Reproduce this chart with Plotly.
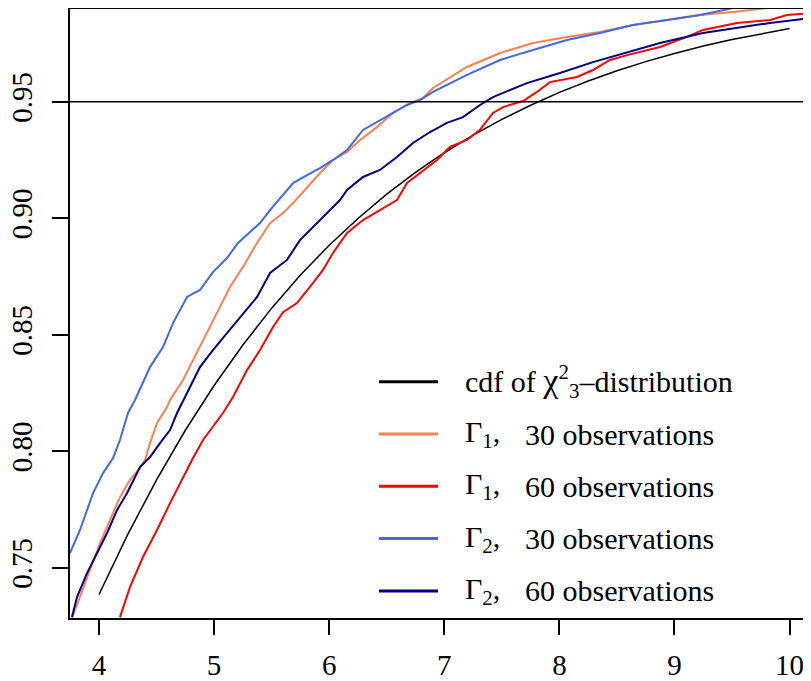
import plotly.graph_objects as go

# ---------------- data ----------------
chi_x = [4.0, 4.25, 4.5, 4.75, 5.0, 5.25, 5.5, 5.75, 6.0, 6.25, 6.5, 6.75, 7.0,
         7.25, 7.5, 7.75, 8.0, 8.25, 8.5, 8.75, 9.0, 9.25, 9.5, 9.75, 10.0]
chi_y = [0.7385, 0.7643, 0.7877, 0.8090, 0.8282, 0.8456, 0.8614, 0.8756, 0.8884,
         0.8999, 0.9103, 0.9197, 0.9281, 0.9357, 0.9424, 0.9485, 0.9540, 0.9589,
         0.9633, 0.9672, 0.9707, 0.9739, 0.9767, 0.9792, 0.9814]

g1_30_x = [3.765, 3.835, 3.922, 4.009, 4.096, 4.182, 4.269, 4.356, 4.400, 4.443,
           4.504, 4.591, 4.617, 4.730, 4.817, 4.938, 5.051, 5.138, 5.251, 5.373,
           5.486, 5.599, 5.686, 5.807, 5.920, 6.033, 6.155, 6.268, 6.415, 6.554,
           6.702, 6.815, 6.902, 7.197, 7.484, 7.771, 8.066, 8.353, 8.639, 8.935,
           9.222, 9.508, 9.804, 10.186]
g1_30_y = [0.7284, 0.7374, 0.7490, 0.7606, 0.7705, 0.7803, 0.7876, 0.7928, 0.7962, 0.8035,
           0.8121, 0.8190, 0.8220, 0.8306, 0.8391, 0.8507, 0.8619, 0.8705, 0.8791, 0.8894,
           0.8979, 0.9022, 0.9065, 0.9134, 0.9194, 0.9250, 0.9284, 0.9336, 0.9391, 0.9452,
           0.9494, 0.9516, 0.9559, 0.9649, 0.9709, 0.9752, 0.9778, 0.9799, 0.9829, 0.9851,
           0.9872, 0.9885, 0.9902, 0.9911]

g1_60_x = [4.182, 4.269, 4.382, 4.504, 4.617, 4.730, 4.817, 4.904, 4.990, 5.077,
           5.164, 5.286, 5.399, 5.512, 5.599, 5.720, 5.833, 5.946, 6.033, 6.155,
           6.294, 6.441, 6.589, 6.676, 6.789, 6.937, 7.050, 7.197, 7.310, 7.423,
           7.510, 7.684, 7.805, 7.918, 8.153, 8.292, 8.440, 8.587, 8.874, 9.108,
           9.248, 9.543, 9.830, 9.977, 10.186]
g1_60_y = [0.7288, 0.7417, 0.7546, 0.7662, 0.7777, 0.7889, 0.7971, 0.8048, 0.8104, 0.8164,
           0.8233, 0.8348, 0.8434, 0.8533, 0.8597, 0.8636, 0.8705, 0.8778, 0.8851, 0.8937,
           0.8992, 0.9035, 0.9078, 0.9151, 0.9194, 0.9250, 0.9306, 0.9336, 0.9379, 0.9452,
           0.9477, 0.9503, 0.9542, 0.9584, 0.9606, 0.9636, 0.9679, 0.9700, 0.9735, 0.9778,
           0.9808, 0.9838, 0.9851, 0.9872, 0.9881]

g2_30_x = [3.748, 3.835, 3.948, 4.035, 4.122, 4.182, 4.252, 4.313, 4.443, 4.556,
           4.643, 4.765, 4.877, 4.990, 5.112, 5.208, 5.312, 5.399, 5.486, 5.573,
           5.686, 5.807, 5.920, 6.033, 6.155, 6.294, 6.415, 6.554, 6.676, 6.789,
           6.902, 7.197, 7.484, 7.771, 8.066, 8.353, 8.639, 8.935, 9.222, 9.508,
           9.804, 10.186]
g2_30_y = [0.7563, 0.7662, 0.7820, 0.7906, 0.7971, 0.8048, 0.8164, 0.8220, 0.8361, 0.8447,
           0.8550, 0.8662, 0.8692, 0.8769, 0.8829, 0.8894, 0.8941, 0.8979, 0.9035, 0.9087,
           0.9151, 0.9185, 0.9215, 0.9250, 0.9293, 0.9379, 0.9413, 0.9452, 0.9486, 0.9507,
           0.9542, 0.9615, 0.9679, 0.9722, 0.9765, 0.9795, 0.9829, 0.9851, 0.9872, 0.9902,
           0.99065, 0.9911]

g2_60_x = [3.765, 3.809, 3.896, 3.983, 4.070, 4.156, 4.243, 4.356, 4.443, 4.530,
           4.617, 4.678, 4.730, 4.765, 4.877, 4.990, 5.112, 5.225, 5.373, 5.486,
           5.633, 5.746, 5.894, 6.007, 6.094, 6.155, 6.294, 6.441, 6.589, 6.728,
           6.876, 7.023, 7.162, 7.310, 7.423, 7.718, 8.005, 8.292, 8.587, 8.874,
           9.248, 9.543, 9.830, 10.186]
g2_60_y = [0.7288, 0.7374, 0.7477, 0.7563, 0.7649, 0.7747, 0.7820, 0.7932, 0.7975, 0.8035,
           0.8091, 0.8164, 0.8220, 0.8250, 0.8361, 0.8434, 0.8507, 0.8576, 0.8662, 0.8765,
           0.8821, 0.8906, 0.8979, 0.9035, 0.9078, 0.9121, 0.9177, 0.9207, 0.9263, 0.9323,
           0.9370, 0.9409, 0.9434, 0.9486, 0.9520, 0.9580, 0.9623, 0.9670, 0.9713, 0.9752,
           0.9795, 0.9816, 0.9838, 0.9859]

ref_level = 0.95
x_ticks = [4, 5, 6, 7, 8, 9, 10]
y_ticks = [0.75, 0.80, 0.85, 0.90, 0.95]
y_tick_text = ["0.75", "0.80", "0.85", "0.90", "0.95"]

series = [
    ("cdf of <span style=\"font-size:34px\">χ</span><sup>2</sup><sub>3</sub>–distribution",
     None, chi_x, chi_y, "#000000", 1.5),
    ("Γ<sub>1</sub>,", "30 observations", g1_30_x, g1_30_y, "#FF7F50", 2),
    ("Γ<sub>1</sub>,", "60 observations", g1_60_x, g1_60_y, "#FF0000", 2),
    ("Γ<sub>2</sub>,", "30 observations", g2_30_x, g2_30_y, "#4169E1", 2),
    ("Γ<sub>2</sub>,", "60 observations", g2_60_x, g2_60_y, "#000080", 2),
]

FONT = "Liberation Serif, Times New Roman, serif"
fig = go.Figure()
for lab, lab2, xs, ys, col, w in series:
    name = lab if lab2 is None else lab + " " + lab2
    fig.add_trace(go.Scatter(x=xs, y=ys, mode="lines", name=name,
                             line=dict(color=col, width=w), showlegend=False,
                             hoverinfo="skip"))

# reference line at 0.95
fig.add_shape(type="line", xref="paper", x0=0, x1=1, yref="y", y0=ref_level, y1=ref_level,
              line=dict(color="black", width=1.6))

# manual legend (no box)
row_y = [0.388, 0.3021, 0.2163, 0.1304, 0.0445]
for (lab, lab2, xs, ys, col, w), ry in zip(series, row_y):
    fig.add_shape(type="line", xref="paper", yref="paper", x0=0.417, x1=0.4966,
                  y0=ry, y1=ry, line=dict(color=col, width=3))
    fig.add_annotation(xref="paper", yref="paper", x=0.531, y=ry, text=lab,
                       showarrow=False, xanchor="left", yanchor="middle",
                       font=dict(family=FONT, size=30, color="black"))
    if lab2:
        fig.add_annotation(xref="paper", yref="paper", x=0.612, y=ry, text=lab2,
                           showarrow=False, xanchor="left", yanchor="middle",
                           font=dict(family=FONT, size=30, color="black"))

fig.update_layout(
    width=803, height=673,
    margin=dict(l=62, r=0, t=1, b=63),
    paper_bgcolor="white", plot_bgcolor="white",
    font=dict(family=FONT, size=29, color="black"),
    xaxis=dict(range=[3.748, 10.186], tickvals=x_ticks, ticks="outside", ticklen=15,
               tickwidth=1.5, tickcolor="black", showline=True, linecolor="black",
               linewidth=2, mirror=True, showgrid=False, zeroline=False,
               tickfont=dict(family=FONT, size=29), ticklabelstandoff=5,
               automargin=False),
    yaxis=dict(range=[0.72842, 0.98979], tickvals=y_ticks, ticktext=y_tick_text,
               ticks="outside", ticklen=16, tickwidth=1.5, tickcolor="black",
               showline=True, linecolor="black", linewidth=2, showgrid=False,
               zeroline=False, tickangle=-90, tickfont=dict(family=FONT, size=29),
               ticklabelstandoff=8, automargin=False),
)

fig.write_html("out.html")
